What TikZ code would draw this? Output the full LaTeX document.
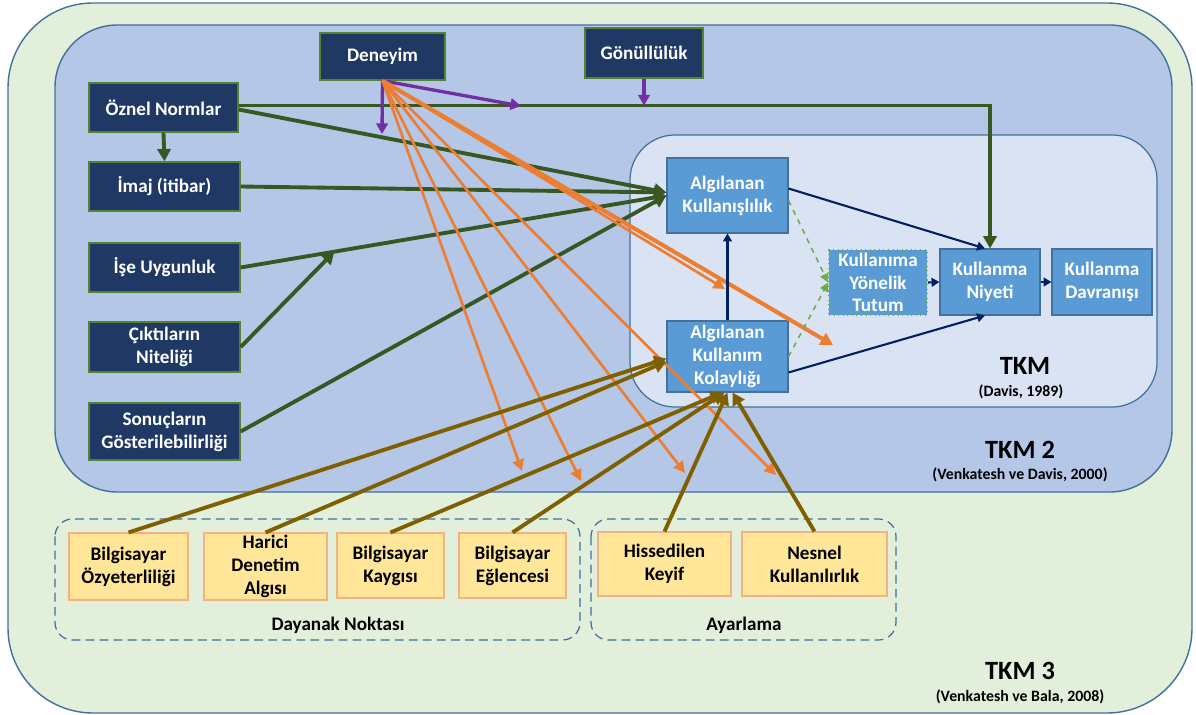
\documentclass[tikz,border=0pt]{standalone}
\usepackage{fontspec}
\setmainfont{Carlito}
\usetikzlibrary{arrows.meta,calc}

\definecolor{tkmthree}{RGB}{226,239,218}
\definecolor{tkmtwo}{RGB}{180,199,231}
\definecolor{tkmone}{RGB}{218,227,243}
\definecolor{frameblue}{RGB}{65,113,156}
\definecolor{navybox}{RGB}{31,56,100}
\definecolor{navyedge}{RGB}{84,130,53}
\definecolor{midblue}{RGB}{91,155,213}
\definecolor{midedge}{RGB}{65,113,156}
\definecolor{paleyellow}{RGB}{255,230,153}
\definecolor{yedge}{RGB}{244,177,131}
\definecolor{darkgreen}{RGB}{56,87,35}
\definecolor{modpurple}{RGB}{112,48,160}
\definecolor{orangeln}{RGB}{237,125,49}
\definecolor{olivebr}{RGB}{127,96,0}
\definecolor{navyln}{RGB}{0,32,96}
\definecolor{lightgreen}{RGB}{112,173,71}

\tikzset{
  sz/.style 2 args={minimum width=#1*0.02cm, minimum height=#2*0.02cm},
  boxfont/.style={font=\bfseries\fontsize{10.9}{13}\selectfont},
  darkbox/.style={draw=navyedge, line width=0.8pt, fill=navybox, text=white,
    boxfont, align=center, inner sep=0pt},
  bluebox/.style={draw=midedge, line width=0.6pt, fill=midblue, text=white,
    boxfont, align=center, inner sep=0pt},
  yellowbox/.style={draw=yedge, line width=0.6pt, fill=paleyellow, text=black,
    boxfont, align=center, inner sep=0pt},
  groupbox/.style={draw=frameblue, line width=0.7pt, dash pattern=on 5pt off 3pt,
    rounded corners=0.35cm},
  bigtitle/.style={font=\bfseries\fontsize{15}{17}\selectfont},
  cite/.style={font=\bfseries\fontsize{9}{11}\selectfont},
  grarrow/.style={draw=darkgreen, line width=2.2pt, -{Triangle[length=7pt,width=7.5pt]}},
  purarrow/.style={draw=modpurple, line width=1.9pt, -{Triangle[length=6pt,width=6.5pt]}},
  orarrow/.style={draw=orangeln, line width=1.5pt, -{Triangle[length=6.5pt,width=6.5pt]}},
  orthick/.style={draw=orangeln, line width=2.3pt, -{Triangle[length=7pt,width=7.5pt]}},
  olarrow/.style={draw=olivebr, line width=2.2pt, -{Triangle[length=7pt,width=7.5pt]}},
  navarrow/.style={draw=navyln, line width=1.2pt, -{Triangle[length=4.5pt,width=5pt]}},
  lgarrow/.style={draw=lightgreen, line width=0.9pt, dashed, -{Triangle[length=5pt,width=5pt]}},
}

\begin{document}
\begin{tikzpicture}[x=0.02cm, y=-0.02cm]
\useasboundingbox (0,0) rectangle (1196,715);

% nested model frames
\draw[draw=frameblue, line width=0.8pt, fill=tkmthree, rounded corners=1.7cm] (8,3) rectangle (1192,713);
\draw[draw=frameblue, line width=0.8pt, fill=tkmtwo, rounded corners=1.25cm] (55,25) rectangle (1172,492);
\draw[draw=frameblue, line width=0.7pt, fill=tkmone, rounded corners=0.9cm] (630,135) rectangle (1157,407);

% grouping frames
\draw[groupbox] (55,519) rectangle (580,640);
\draw[groupbox] (591,519) rectangle (896,640);

% external variables
\node[darkbox, sz={125}{47}] (den) at (382.5,56.5) {Deneyim};
\node[darkbox, sz={118}{50}] (gon) at (644,53) {Gönüllülük};
\node[darkbox, sz={149}{49}] (ozn) at (163.5,107.5) {Öznel Normlar};
\node[darkbox, sz={151}{49}] (imaj) at (164.5,186.5) {İmaj (itibar)};
\node[darkbox, sz={151}{49}] (ise) at (164.5,267.5) {İşe Uygunluk};
\node[darkbox, sz={151}{50}] (cik) at (164.5,347) {Çıktıların\\Niteliği};
\node[darkbox, sz={151}{57}] (son) at (164.5,431.5) {Sonuçların\\Gösterilebilirliği};

% core model
\node[bluebox, sz={121}{75}] (pu) at (727.5,195.5) {Algılanan\\Kullanışlılık};
\node[bluebox, sz={121}{71}] (peou) at (727.5,356.5) {Algılanan\\Kullanım\\Kolaylığı};
\node[bluebox, draw=lightgreen, dotted, line width=1pt, sz={98}{65}] (tut) at (878,282.5) {Kullanıma\\Yönelik\\Tutum};
\node[bluebox, sz={100}{66}] (niy) at (990,282) {Kullanma\\Niyeti};
\node[bluebox, sz={100}{66}] (dav) at (1102,282) {Kullanma\\Davranışı};

% anchors and adjustments
\node[yellowbox, sz={119}{67}] (y1) at (128.5,566.5) {Bilgisayar\\Özyeterliliği};
\node[yellowbox, sz={123}{67}] (y2) at (265.5,566.5) {Harici\\Denetim\\Algısı};
\node[yellowbox, sz={107}{65}] (y3) at (390.5,565.5) {Bilgisayar\\Kaygısı};
\node[yellowbox, sz={107}{65}] (y4) at (512.5,565.5) {Bilgisayar\\Eğlencesi};
\node[yellowbox, sz={133}{64}] (y5) at (664.5,564) {Hissedilen\\Keyif};
\node[yellowbox, sz={145}{64}] (y6) at (814.5,564) {Nesnel\\Kullanılırlık};

% titles
\node[bigtitle] (t1) at (1025,366) {TKM};
\node[cite] (c1) at (1021,392) {(Davis, 1989)};
\node[bigtitle] (t2) at (1020,450) {TKM 2};
\node[cite] (c2) at (1020,475) {(Venkatesh ve Davis, 2000)};
\node[bigtitle] (t3) at (1020,671) {TKM 3};
\node[cite] (c3) at (1020,697) {(Venkatesh ve Bala, 2008)};
\node[boxfont] (g1) at (338,625) {Dayanak Noktası};
\node[boxfont] (g2) at (744,625) {Ayarlama};

% free ends of connectors
\coordinate (pdown) at (382,134);
\coordinate (pside) at (521,106);
\coordinate (o1) at (522,471);
\coordinate (o2) at (581,481);
\coordinate (o3) at (685,473);
\coordinate (o4) at (776,475);
\coordinate (o5) at (725,289);
\coordinate (o6) at (833,345);
\path (ise.east) -- (pu.west) coordinate[pos=0.22] (isemid);

% green influences
\draw[grarrow] (ozn.south) -- (imaj.north);
\draw[grarrow] ($(ozn.east)+(0,-2)$) -| (niy.north);
\draw[grarrow] ($(ozn.east)+(0,2)$) -- ($(pu.west)+(0,-3)$);
\draw[grarrow] (imaj.east) -- ($(pu.west)+(0,-3)$);
\draw[grarrow] (ise.east) -- (pu.west);
\draw[grarrow] (cik.east) -- (isemid);
\draw[grarrow] (son.east) -- (pu.west);

% moderators
\draw[purarrow] (den.south) -- (pdown);
\draw[purarrow] (den.south) -- (pside);
\draw[purarrow] (gon.south) -- ($(gon.south |- ozn.east)+(0,-2)$);

% experience effects
\draw[orarrow] (den.south) -- (o1);
\draw[orarrow] (den.south) -- (o2);
\draw[orarrow] (den.south) -- (o3);
\draw[orarrow] (den.south) -- (o4);
\draw[orarrow] (den.south) -- (o5);
\draw[orthick] (den.south) -- (o6);

% anchor and adjustment effects
\draw[olarrow] (y1.north) -- ($(peou.west)+(0,2)$);
\draw[olarrow] (y2.north) -- ($(peou.west)+(0,5)$);
\draw[olarrow] (y3.north) -- ($(peou.south)+(-5,0)$);
\draw[olarrow] (y4.north) -- ($(peou.south)+(-3,0)$);
\draw[olarrow] (y5.north) -- ($(peou.south)+(0,0)$);
\draw[olarrow] (y6.north) -- ($(peou.south)+(5,0)$);

% core model relations
\draw[navarrow] (peou.north) -- (pu.south);
\draw[navarrow] ($(pu.east)+(0,-7)$) -- ($(niy.north)+(-5,0)$);
\draw[navarrow] ($(peou.east)+(0,16)$) -- ($(niy.south)+(-5,0)$);
\draw[navarrow] (tut.east) -- (niy.west);
\draw[navarrow] (niy.east) -- (dav.west);
\draw[lgarrow] ($(pu.east)+(0,5)$) -- (tut.west);
\draw[lgarrow] (peou.east) -- (tut.west);
\end{tikzpicture}
\end{document}
